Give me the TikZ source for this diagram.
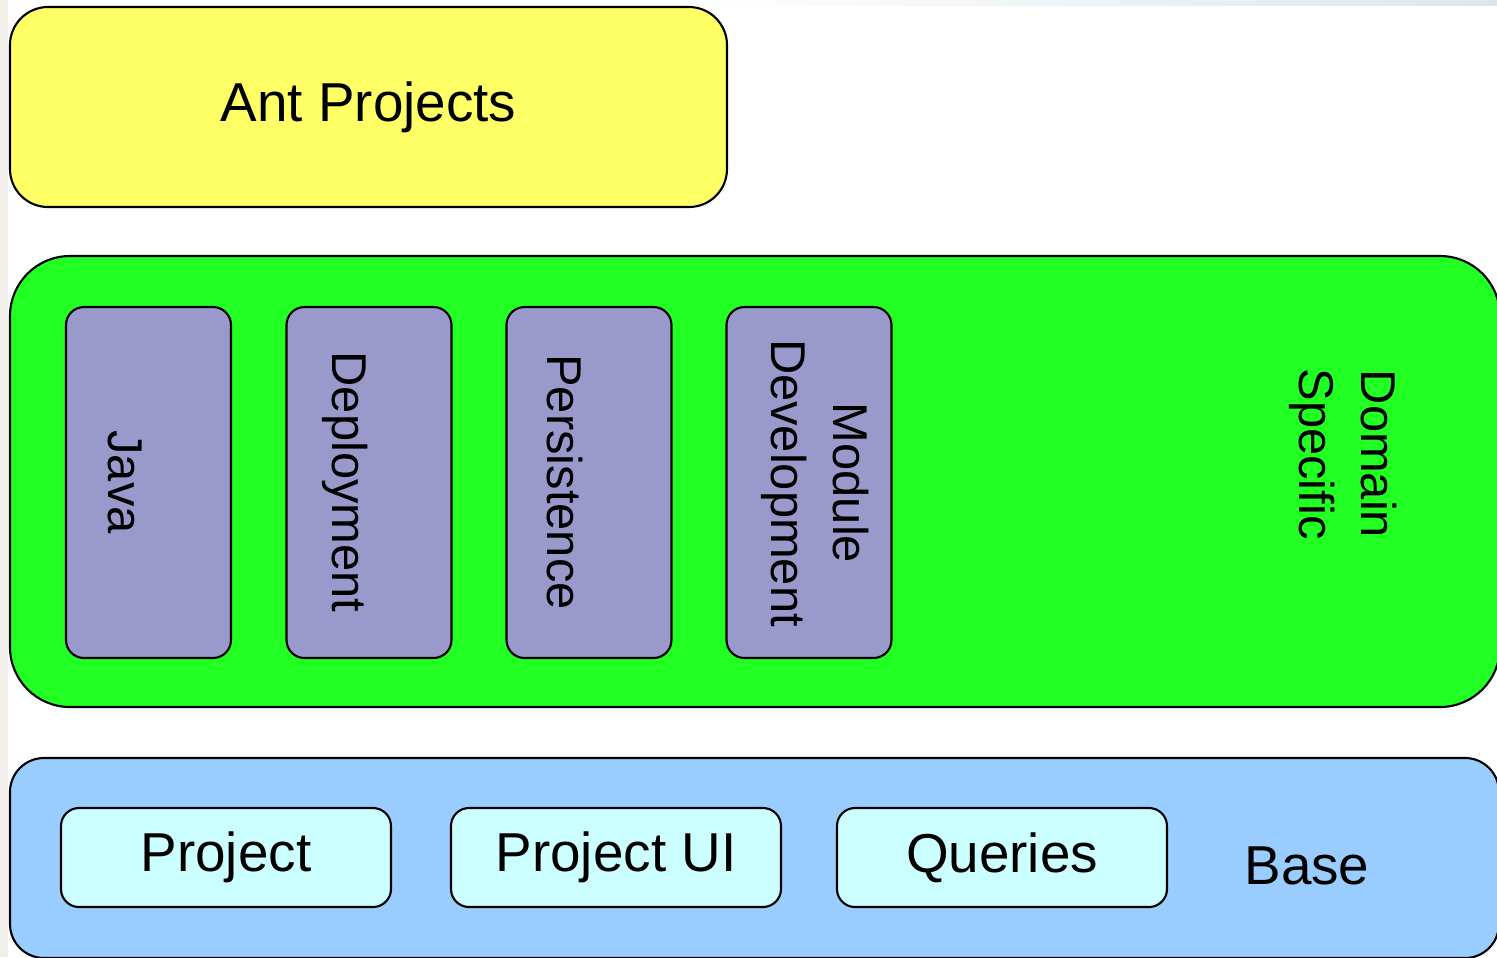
\documentclass[tikz,border=0pt]{standalone}
\usepackage{fontspec}
\setmainfont{Liberation Sans}
\usetikzlibrary{positioning}

\definecolor{antyellow}{RGB}{255,255,102}
\definecolor{domaingreen}{RGB}{34,255,34}
\definecolor{modpurple}{RGB}{153,153,204}
\definecolor{baseblue}{RGB}{153,204,255}
\definecolor{basecyan}{RGB}{204,255,255}
\definecolor{edgebeige}{RGB}{243,239,234}
\definecolor{edgeblue}{RGB}{218,230,238}

\begin{document}
\begin{tikzpicture}[every node/.style={draw,line width=0.6pt,inner sep=0pt},
  big/.style={font=\fontsize{15.6}{18}\selectfont},
  vlabel/.style={draw=none,fill=none,rotate=-90,align=center,font=\fontsize{13.9}{17.6}\selectfont},
  modbox/.style={fill=modpurple,rounded corners=0.18cm,minimum width=1.65cm,minimum height=3.51cm},
  partbox/.style={big,fill=basecyan,rounded corners=0.18cm,minimum width=3.3cm,minimum height=0.99cm}]

\useasboundingbox (0,0) rectangle (14.97,-9.57);
\fill[edgebeige] (0,0) rectangle (0.08,-9.57);
\shade[left color=white,right color=edgeblue] (7,0) rectangle (14.97,-0.05);

% layers
\node[big,fill=antyellow,rounded corners=0.38cm,minimum width=7.17cm,minimum height=2cm] (ant) at (3.685,-1.07) {Ant Projects};
\node[fill=domaingreen,rounded corners=0.6cm,minimum width=14.9cm,minimum height=4.51cm] (domain) at (7.55,-4.815) {};
\node[fill=baseblue,rounded corners=0.34cm,minimum width=14.89cm,minimum height=2cm] (base) at (7.545,-8.58) {};

% domain specific modules
\foreach \n/\x in {java/1.485,deploy/3.69,persist/5.89,module/8.09}
	\node[modbox] (\n) at (\x,-4.825) {};
\node[vlabel] (javatxt) at (1.25,-4.82) {Java};
\node[vlabel] (deploytxt) at (3.45,-4.82) {Deployment};
\node[vlabel] (persisttxt) at (5.65,-4.82) {Persistence};
\node[vlabel] (moduletxt) at (8.15,-4.83) {Module\\Development};
\node[vlabel] (domaintxt) at (13.43,-4.54) {Domain\\Specific};

% base modules
\foreach \n/\x/\t in {proj/2.26/Project,projui/6.16/Project UI,queries/10.02/Queries}
	\node[partbox] (\n) at (\x,-8.575) {\t};
\node[big,draw=none,fill=none] (basetxt) at (13.07,-8.66) {Base};

\end{tikzpicture}
\end{document}
